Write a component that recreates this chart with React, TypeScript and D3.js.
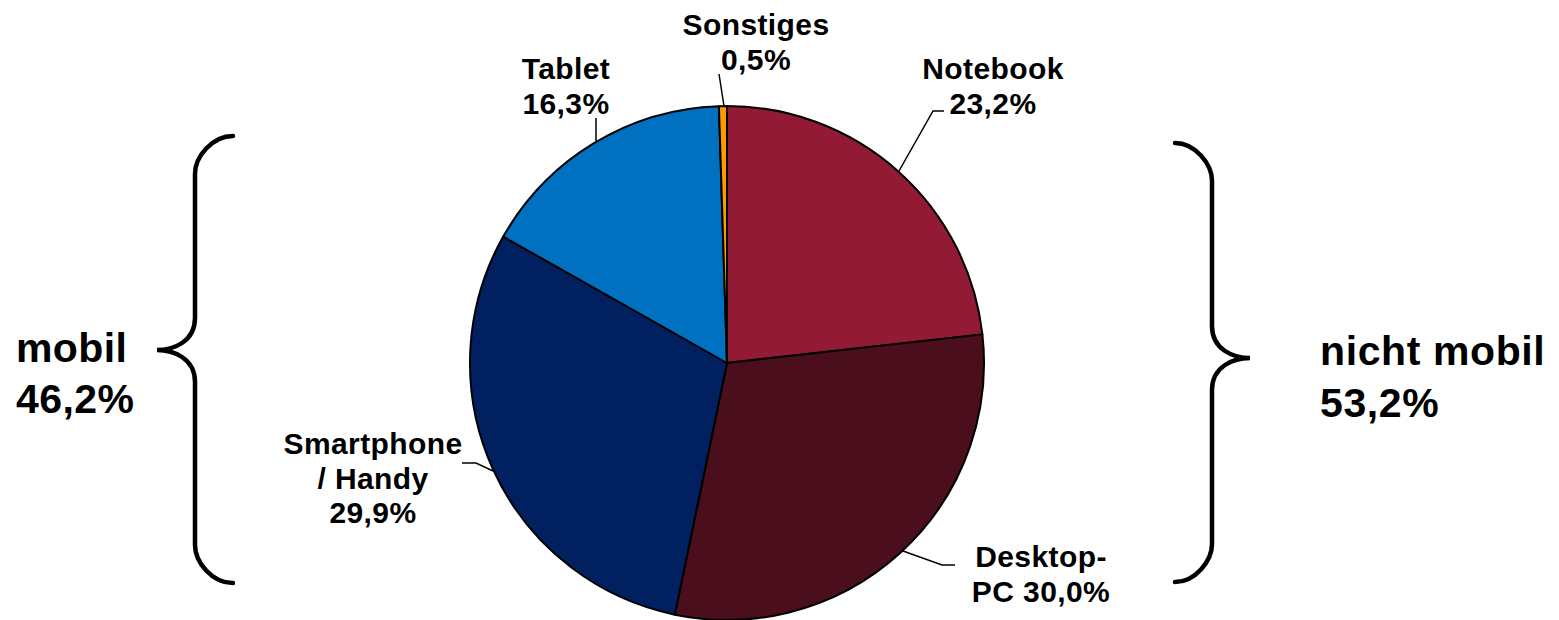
import React from "react";
import * as d3 from "d3";

const categories = ["Notebook", "Desktop-PC", "Smartphone / Handy", "Tablet", "Sonstiges"];
const values = [23.2, 30.0, 29.9, 16.3, 0.5];
const colors = ["#931A35", "#4B0E1C", "#00205F", "#0070C0", "#FF9900"];
const labelLines = [
  ["Notebook", "23,2%"],
  ["Desktop-", "PC 30,0%"],
  ["Smartphone", "/ Handy", "29,9%"],
  ["Tablet", "16,3%"],
  ["Sonstiges", "0,5%"],
];
const groupLabels = [["mobil", "46,2%"], ["nicht mobil", "53,2%"]];

const W = 1559;
const H = 620;
const cx = 727;
const cy = 363;
const R = 257;
const FONT = "'Liberation Sans', Arial, Helvetica, sans-serif";

// label anchor positions (center x, first baseline) and leader polylines
const labelPos = [
  { x: 993, y: 79 },
  { x: 1041, y: 567 },
  { x: 373, y: 454 },
  { x: 566, y: 79 },
  { x: 756, y: 35 },
];
const leaders: [number, number][][] = [
  [[899, 171], [933, 111], [944, 111]],
  [[903, 551], [942, 565], [955, 565]],
  [[493, 471], [476, 463], [462, 463]],
  [[596, 142], [596, 118]],
  [[724, 106], [719, 74]],
];

function brace(x0: number, xv: number, xt: number, yTop: number, yMid: number, yBot: number) {
  const p = d3.path();
  const r = 38;
  const s = Math.sign(x0 - xv);
  const t = Math.sign(xv - xt);
  p.moveTo(x0, yTop);
  p.bezierCurveTo(xv + s * r * 0.45, yTop, xv, yTop + r * 0.55, xv, yTop + r);
  p.lineTo(xv, yMid - 32);
  p.bezierCurveTo(xv, yMid - 8, xt + t * 16, yMid, xt, yMid);
  p.bezierCurveTo(xt + t * 16, yMid, xv, yMid + 8, xv, yMid + 32);
  p.lineTo(xv, yBot - r);
  p.bezierCurveTo(xv, yBot - r * 0.55, xv + s * r * 0.45, yBot, x0, yBot);
  return p.toString();
}

export default function App() {
  const pie = d3.pie<number>().sort(null).startAngle(0).endAngle(2 * Math.PI);
  const arcs = pie(values);
  const arc = d3.arc<d3.PieArcDatum<number>>().innerRadius(0).outerRadius(R);
  const line = d3.line();
  return (
    <svg width={W} height={H} style={{ position: "absolute", left: 0, top: 0, background: "#fff" }}>
      <g transform={`translate(${cx},${cy})`}>
        {arcs.map((a, i) => (
          <path key={categories[i]} d={arc(a) || ""} fill={colors[i]} stroke="#000" strokeWidth={2} strokeLinejoin="round" />
        ))}
      </g>
      {leaders.map((pts, i) => (
        <path key={"l" + i} d={line(pts) || ""} fill="none" stroke="#000" strokeWidth={1.5} />
      ))}
      {labelLines.map((lines, i) => (
        <text key={"t" + i} fontFamily={FONT} fontWeight="bold" fontSize={30} letterSpacing={0.4} textAnchor="middle" fill="#000">
          {lines.map((s, j) => (
            <tspan key={j} x={labelPos[i].x} y={labelPos[i].y + j * 34.5}>{s}</tspan>
          ))}
        </text>
      ))}
      <path d={brace(233, 195, 157, 136, 350, 583)} fill="none" stroke="#000" strokeWidth={4.5} strokeLinecap="round" />
      <path d={brace(1175, 1212, 1250, 143, 358, 582)} fill="none" stroke="#000" strokeWidth={4.5} strokeLinecap="round" />
      <text fontFamily={FONT} fontWeight="bold" fontSize={41} letterSpacing={0.4} fill="#000">
        <tspan x={16} y={362}>{groupLabels[0][0]}</tspan>
        <tspan x={16} y={413}>{groupLabels[0][1]}</tspan>
      </text>
      <text fontFamily={FONT} fontWeight="bold" fontSize={41} letterSpacing={0.6} fill="#000">
        <tspan x={1320} y={365}>{groupLabels[1][0]}</tspan>
        <tspan x={1320} y={417}>{groupLabels[1][1]}</tspan>
      </text>
    </svg>
  );
}
